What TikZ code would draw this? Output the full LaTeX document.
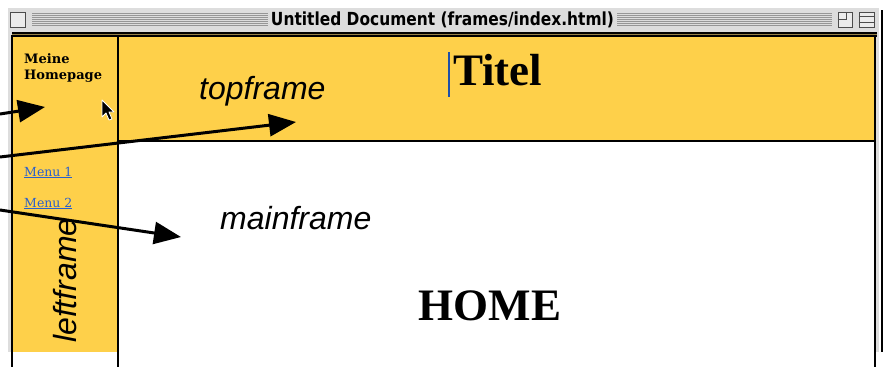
\documentclass[tikz,border=0pt]{standalone}
\usepackage{fontspec}
\setmainfont{Liberation Serif}
\newfontfamily\uisans{DejaVu Sans}
\newfontfamily\labelsans{Liberation Sans}
\newfontfamily\slab{DejaVu Serif}
\usetikzlibrary{arrows.meta}

\definecolor{frameyellow}{RGB}{254,208,74}
\definecolor{barbg}{RGB}{221,221,221}
\definecolor{stripe}{RGB}{150,150,150}
\definecolor{linkblue}{RGB}{40,95,205}
\definecolor{rimtan}{RGB}{150,128,70}
\definecolor{caretblue}{RGB}{30,80,170}

\tikzset{
  framerule/.style={black, line width=2.4pt},
  stripeline/.style={stripe, line width=0.8pt},
  wbox/.style={draw=black!70, line width=0.9pt, fill=barbg!60!white},
  pointer/.style={black, line width=3pt, -{Triangle[length=27pt,width=22pt]}},
  frametag/.style={inner sep=0pt, font=\labelsans\itshape\fontsize{32}{32}\selectfont},
  pagetext/.style={inner sep=0pt, font=\bfseries\fontsize{45}{45}\selectfont},
  navtext/.style={inner sep=0pt, anchor=base west, font=\slab\bfseries\fontsize{13}{13}\selectfont},
  menulink/.style={inner sep=0pt, anchor=base west, text=linkblue, font=\slab\fontsize{12.5}{12.5}\selectfont},
}

\begin{document}
\begin{tikzpicture}[x=1pt,y=-1pt]
\useasboundingbox (0,0) rectangle (887,367);

% window body and title bar
\fill[barbg] (8,8) rectangle (879,352);
\fill[black] (880.5,10) rectangle (883,352);

% title bar stripes
\foreach \yy in {13,15,...,25} {
  \draw[stripeline] (32,\yy) -- (268,\yy);
  \draw[stripeline] (617,\yy) -- (832,\yy);
}

% close box
\node[wbox, minimum width=15pt, minimum height=15pt, inner sep=0pt] (closebox) at (18,19.5) {};
% zoom box
\node[wbox, minimum width=14pt, minimum height=15pt, inner sep=0pt] (zoombox) at (845,19.5) {};
\draw[black!70, line width=0.9pt] (zoombox.north west) ++(0,8) -- ++(9,0) -- ++(0,-8);
% collapse box
\node[wbox, minimum width=15pt, minimum height=15pt, inner sep=0pt] (collapsebox) at (866.5,19.5) {};
\draw[black!70, line width=0.9pt] ([yshift=-5pt]collapsebox.north west) -- ([yshift=-5pt]collapsebox.north east)
  ([yshift=5pt]collapsebox.south west) -- ([yshift=5pt]collapsebox.south east);

% window title
\node[inner sep=0pt] (wintitle) at (442.5,20) {\resizebox{343pt}{\height}{\uisans\bfseries\fontsize{18}{18}\selectfont Untitled Document (frames/index.html)}};

% frames
\fill[frameyellow] (12,36) rectangle (118,352);
\fill[frameyellow] (118,36) rectangle (875,141);
\fill[white] (118,141) rectangle (875,352);
\fill[white] (0,352) rectangle (887,367);

% frame top rim
\draw[black, line width=1.2pt] (12,33) -- (877,33);
\draw[rimtan, line width=1.2pt] (12,34.5) -- (877,34.5);
\draw[black, line width=1.5pt] (11,36) -- (877,36);
% frame borders
\draw[framerule] (12,35) -- (12,367);
\draw[framerule] (118,35) -- (118,367);
\draw[framerule] (875,35) -- (875,367);
\draw[framerule] (118,141) -- (875,141);

% left frame content
\node[navtext] (meine) at (24,63) {Meine};
\node[navtext] (homepage) at (24,79) {Homepage};
\node[menulink] (menu1) at (24,176) {\underline{Menu 1}};
\node[menulink] (menu2) at (24,207) {\underline{Menu 2}};

% mouse pointer
\filldraw[fill=black, draw=white, line width=0.8pt, line join=round]
  (102,100) -- (102,117) -- (106,113) -- (109,120) -- (112,119) -- (109,112) -- (114,112) -- cycle;

% page texts
\node[pagetext, anchor=base west] (titel) at (453,85) {Titel};
\draw[caretblue, line width=1.2pt] (449,52) -- (449,97);
\node[pagetext, anchor=base] (home) at (490,320) {HOME};

% frame labels
\node[frametag, anchor=base west] (toplabel) at (199,99) {topframe};
\node[frametag, anchor=base west] (mainlabel) at (220,229) {mainframe};
\node[frametag, anchor=base west, rotate=90] (leftlabel) at (76,343) {leftframe};

% pointer arrows
\coordinate (leftfrom) at (0,114);
\coordinate (leftto) at (45,107);
\coordinate (topfrom) at (0,157);
\coordinate (topto) at (296,122);
\coordinate (mainfrom) at (0,210);
\coordinate (mainto) at (181,237);
\draw[pointer] (leftfrom) -- (leftto);
\draw[pointer] (topfrom) -- (topto);
\draw[pointer] (mainfrom) -- (mainto);
\end{tikzpicture}
\end{document}
